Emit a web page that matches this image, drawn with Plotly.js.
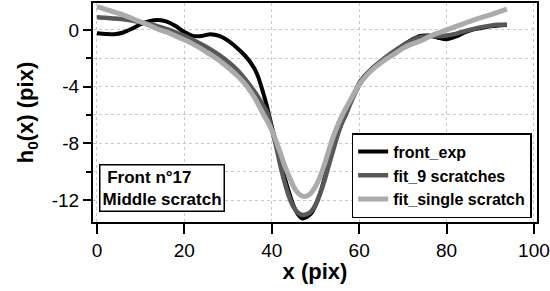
<!DOCTYPE html>
<html>
<head>
<meta charset="utf-8">
<script src="https://cdn.plot.ly/plotly-3.0.1.min.js"></script>
<style>html,body{margin:0;padding:0;background:#fff;}#chart{width:550px;height:291px;}</style>
</head>
<body>
<div id="chart"></div>
<script>
var xPix = [0,2,4,6,8,10,12,14,16,18,20,22,24,26,28,30,32,34,36,37,38,39,40,41,42,43,44,45,46,47,48,49,50,51,52,53,54,55,56,57,58,60,62,64,66,68,70,72,74,76,78,80,82,84,86,88,90,92,93.8];

var frontExp = [-0.23,-0.28,-0.3,-0.18,0.08,0.4,0.62,0.7,0.59,0.28,-0.15,-0.42,-0.42,-0.3,-0.42,-0.75,-1.25,-1.85,-2.7,-3.4,-4.4,-5.5,-6.8,-8.0,-9.17,-10.45,-11.5,-12.4,-13.0,-13.3,-13.2,-12.95,-12.4,-11.6,-10.55,-9.4,-8.3,-7.4,-6.6,-5.8,-5.05,-3.75,-3.0,-2.45,-2.0,-1.55,-1.1,-0.7,-0.42,-0.4,-0.55,-0.66,-0.48,-0.2,0.02,0.14,0.25,0.32,0.35];

var fit9 = [0.9,0.86,0.8,0.75,0.66,0.54,0.42,0.24,0.05,-0.17,-0.42,-0.72,-1.02,-1.37,-1.78,-2.25,-2.8,-3.5,-4.33,-4.8,-5.3,-5.85,-7.0,-8.2,-9.6,-10.8,-11.8,-12.5,-12.9,-13.05,-13.0,-12.8,-12.35,-11.6,-10.7,-9.6,-8.55,-7.5,-6.6,-5.95,-5.2,-3.9,-3.05,-2.45,-1.95,-1.5,-1.1,-0.75,-0.52,-0.45,-0.45,-0.4,-0.28,-0.1,0.06,0.2,0.3,0.36,0.38];

var fitSingle = [1.65,1.45,1.25,1.07,0.82,0.56,0.32,0.05,-0.16,-0.42,-0.7,-1.0,-1.35,-1.75,-2.15,-2.65,-3.2,-3.85,-4.75,-5.3,-5.9,-6.45,-7.06,-7.85,-8.7,-9.6,-10.35,-11.06,-11.5,-11.72,-11.72,-11.5,-11.05,-10.4,-9.55,-8.55,-7.6,-6.8,-6.1,-5.5,-4.95,-3.85,-3.1,-2.55,-2.1,-1.7,-1.3,-1.0,-0.78,-0.48,-0.23,0.0,0.23,0.45,0.68,0.88,1.07,1.27,1.46];

var seriesNames = ['front_exp', 'fit_9 scratches', 'fit_single scratch'];
var xTickVals = [0,20,40,60,80,100];
var xTickText = ['0','20','40','60','80','100'];
var yTickVals = [0,-4,-8,-12];
var yTickText = ['0','-4','-8','-12'];

var font = 'Liberation Sans, Arial, sans-serif';

var traces = [
  {x: xPix, y: frontExp, name: seriesNames[0], mode: 'lines', line: {color: '#000000', width: 4, shape: 'spline', smoothing: 0.8}},
  {x: xPix, y: fit9, name: seriesNames[1], mode: 'lines', line: {color: '#585858', width: 4.5, shape: 'spline', smoothing: 0.8}},
  {x: xPix, y: fitSingle, name: seriesNames[2], mode: 'lines', line: {color: '#ababab', width: 5, shape: 'spline', smoothing: 0.8}}
];

var layout = {
  width: 550, height: 291,
  margin: {l: 93, r: 13, t: 3, b: 69},
  paper_bgcolor: '#ffffff', plot_bgcolor: '#ffffff',
  font: {family: font, color: '#000'},
  showlegend: true,
  legend: {
    x: 0.988, xanchor: 'right', y: 0.018, yanchor: 'bottom',
    bgcolor: '#ffffff', bordercolor: '#000', borderwidth: 1.5,
    font: {family: font, size: 16, color: '#000', weight: 'bold'},
    tracegroupgap: 0, itemwidth: 30
  },
  xaxis: {
    range: [-0.9, 100.7],
    tickmode: 'array', tickvals: xTickVals, ticktext: xTickText,
    ticks: 'outside', ticklen: 10, tickwidth: 2, tickcolor: '#000',
    showline: true, linecolor: '#000', linewidth: 2, mirror: true,
    showgrid: true, gridcolor: '#c8c8c8', griddash: 'dot', gridwidth: 1,
    zeroline: false,
    tickfont: {family: font, size: 19, color: '#000'},
    title: {text: 'x (pix)', font: {family: font, size: 22, color: '#000', weight: 'bold'}, standoff: 4}
  },
  yaxis: {
    range: [-13.55, 1.9],
    tickmode: 'array', tickvals: yTickVals, ticktext: yTickText,
    ticks: 'outside', ticklen: 8, tickwidth: 2, tickcolor: '#000',
    minor: {tickmode: 'linear', tick0: 0, dtick: 2, ticks: 'outside', ticklen: 5, tickwidth: 2, tickcolor: '#000', showgrid: true, gridcolor: '#c8c8c8', griddash: 'dot', gridwidth: 1},
    showline: true, linecolor: '#000', linewidth: 2, mirror: true,
    showgrid: true, gridcolor: '#c8c8c8', griddash: 'dot', gridwidth: 1,
    zeroline: false,
    tickfont: {family: font, size: 19, color: '#000'},
    title: {text: 'h<sub>0</sub>(x) (pix)', font: {family: font, size: 22, color: '#000', weight: 'bold'}, standoff: 12}
  },
  annotations: [{
    xref: 'paper', yref: 'paper', x: 0.0135, xanchor: 'left', y: 0.045, yanchor: 'bottom',
    text: '\u00a0Front n°17<br>Middle scratch', align: 'left', showarrow: false,
    font: {family: font, size: 17, color: '#000', weight: 'bold'},
    bgcolor: '#ffffff', bordercolor: '#000', borderwidth: 1.5, borderpad: 2
  }]
};

Plotly.newPlot('chart', traces, layout, {staticPlot: true, displayModeBar: false});
</script>
</body>
</html>
